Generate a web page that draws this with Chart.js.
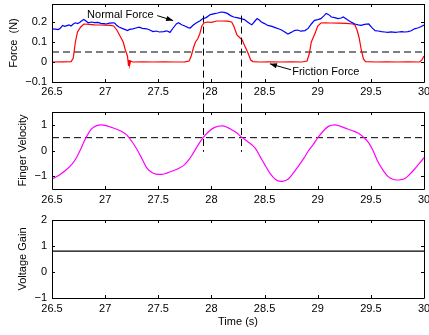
<!DOCTYPE html>
<html><head><meta charset="utf-8">
<script src="https://cdn.jsdelivr.net/npm/chart.js@4/dist/chart.umd.min.js"></script>
<style>
html,body{margin:0;padding:0;background:#fff;width:429px;height:335px;overflow:hidden}
canvas{position:absolute;left:0}
</style></head><body>
<canvas id="c1" width="429" height="106" style="top:0px"></canvas>
<canvas id="c2" width="429" height="106" style="top:106px"></canvas>
<canvas id="c3" width="429" height="123" style="top:212px"></canvas>
<script>
// ---------- data ----------
const timeTicks = [26.5, 27, 27.5, 28, 28.5, 29, 29.5, 30];
const forceTicks = [-0.1, 0, 0.1, 0.2];
const velocityTicks = [-1, 0, 1];
const gainTicks = [-1, 0, 1, 2];

const frictionT = [26.50,26.60,26.68,26.70,26.72,26.74,26.77,26.80,26.85,26.90,26.95,27.00,27.05,27.08,27.11,27.14,27.17,27.19,27.21,27.22,27.225,27.23,27.24,27.26,27.35,27.45,27.55,27.65,27.75,27.79,27.81,27.83,27.85,27.87,27.89,27.91,27.93,27.96,28.00,28.05,28.10,28.15,28.19,28.21,28.24,28.27,28.29,28.31,28.34,28.37,28.39,28.45,28.55,28.65,28.75,28.85,28.90,28.92,28.94,28.96,28.98,29.00,29.03,29.07,29.12,29.20,29.27,29.33,29.35,29.37,29.39,29.41,29.43,29.45,29.55,29.65,29.75,29.85,29.96,29.98,30.00];
const frictionF = [0,0.001,0.002,0.02,0.10,0.15,0.175,0.19,0.188,0.186,0.185,0.184,0.183,0.180,0.160,0.130,0.100,0.060,0.030,-0.020,0.010,-0.015,0.005,0,0.001,0,0.001,0,0.001,0.005,0.03,0.07,0.10,0.115,0.14,0.18,0.195,0.200,0.198,0.205,0.205,0.204,0.200,0.180,0.135,0.120,0.110,0.085,0.050,0.010,0.002,0,0.001,0,0.001,0,0.005,0.040,0.100,0.125,0.150,0.180,0.195,0.196,0.195,0.194,0.193,0.190,0.185,0.160,0.120,0.060,0.015,0.002,0,0.001,0,0.001,0,0.010,0.030];

const normalT = [26.50,26.53,26.56,26.58,26.60,26.62,26.64,26.66,26.68,26.70,26.72,26.74,26.76,26.78,26.80,26.82,26.84,26.87,26.90,26.93,26.96,26.99,27.01,27.04,27.07,27.09,27.11,27.13,27.16,27.19,27.21,27.23,27.26,27.29,27.32,27.35,27.39,27.42,27.45,27.48,27.51,27.55,27.58,27.61,27.64,27.67,27.69,27.72,27.75,27.78,27.80,27.83,27.86,27.89,27.92,27.95,27.99,28.03,28.06,28.09,28.12,28.15,28.18,28.21,28.24,28.28,28.31,28.34,28.36,28.38,28.41,28.43,28.45,28.47,28.50,28.53,28.57,28.60,28.63,28.66,28.69,28.72,28.75,28.78,28.81,28.84,28.88,28.91,28.94,28.97,29.00,29.03,29.06,29.08,29.10,29.13,29.16,29.19,29.22,29.24,29.27,29.29,29.32,29.35,29.38,29.41,29.44,29.48,29.51,29.54,29.57,29.60,29.63,29.66,29.69,29.73,29.76,29.79,29.82,29.85,29.88,29.91,29.94,29.97,30.00];
const normalF = [0.166,0.164,0.162,0.170,0.183,0.178,0.182,0.185,0.180,0.190,0.196,0.192,0.198,0.206,0.213,0.205,0.196,0.200,0.197,0.198,0.193,0.192,0.190,0.194,0.196,0.195,0.182,0.175,0.168,0.162,0.157,0.163,0.166,0.170,0.174,0.168,0.166,0.160,0.152,0.155,0.150,0.152,0.156,0.148,0.170,0.190,0.196,0.186,0.180,0.172,0.170,0.185,0.196,0.205,0.217,0.222,0.237,0.242,0.245,0.250,0.248,0.243,0.232,0.225,0.222,0.217,0.212,0.200,0.192,0.186,0.205,0.217,0.210,0.200,0.192,0.183,0.178,0.172,0.166,0.160,0.150,0.140,0.148,0.157,0.160,0.154,0.157,0.168,0.190,0.208,0.212,0.217,0.232,0.243,0.238,0.225,0.222,0.217,0.220,0.225,0.215,0.208,0.198,0.190,0.186,0.183,0.188,0.190,0.172,0.157,0.155,0.152,0.150,0.148,0.151,0.148,0.150,0.152,0.150,0.152,0.156,0.166,0.170,0.176,0.185];

const velocityT = [26.50,26.57,26.64,26.69,26.73,26.77,26.81,26.87,26.92,26.96,27.01,27.06,27.11,27.16,27.20,27.25,27.30,27.35,27.39,27.44,27.48,27.53,27.58,27.64,27.70,27.74,27.79,27.83,27.88,27.92,27.97,28.03,28.10,28.15,28.19,28.24,28.28,28.34,28.41,28.46,28.50,28.55,28.60,28.65,28.68,28.72,28.77,28.82,28.87,28.91,28.96,29.00,29.05,29.10,29.16,29.21,29.26,29.32,29.38,29.43,29.48,29.52,29.57,29.62,29.66,29.70,29.74,29.78,29.82,29.86,29.91,29.95,30.00];
const velocityV = [-1.12,-0.95,-0.73,-0.52,-0.28,0.05,0.42,0.83,0.97,1.0,0.97,0.90,0.83,0.73,0.62,0.36,0.04,-0.35,-0.67,-0.86,-0.92,-0.93,-0.88,-0.79,-0.68,-0.58,-0.35,-0.09,0.25,0.49,0.72,0.90,0.96,0.90,0.81,0.68,0.53,0.35,0.10,-0.25,-0.54,-0.88,-1.12,-1.20,-1.19,-1.12,-0.88,-0.60,-0.30,-0.03,0.25,0.49,0.75,0.94,1.0,0.95,0.87,0.78,0.68,0.52,0.30,0.0,-0.47,-0.80,-1.01,-1.11,-1.15,-1.14,-1.09,-0.95,-0.73,-0.53,-0.28];

const gainT = [26.5, 30];
const gainV = [0.8, 0.8];
const forceThreshold = 0.05;
const velocityThreshold = 0.5;
const switchTimes = [27.92, 28.28];

// ---------- helpers ----------
const FONT = {family: '"Liberation Sans", Arial, Helvetica, sans-serif', size: 11};
const pts = (xs, ys) => xs.map((x, i) => ({x, y: ys[i]}));
const fmt = v => String(+Number(v).toFixed(2)).replace('-', '\u2212');

function arrow(ctx, x1, y1, x2, y2) {
  ctx.beginPath(); ctx.moveTo(x1, y1); ctx.lineTo(x2, y2); ctx.stroke();
  const a = Math.atan2(y2 - y1, x2 - x1), L = 7, W = 2.6;
  ctx.beginPath();
  ctx.moveTo(x2, y2);
  ctx.lineTo(x2 - L*Math.cos(a) + W*Math.sin(a), y2 - L*Math.sin(a) - W*Math.cos(a));
  ctx.lineTo(x2 - L*Math.cos(a) - W*Math.sin(a), y2 - L*Math.sin(a) + W*Math.cos(a));
  ctx.closePath(); ctx.fill();
}

const matlab = {
  id: 'matlab',
  afterDatasetsDraw(chart, args, opts) {
    const {ctx, chartArea: {left, right, top, bottom}, scales: {x, y}} = chart;
    const r = v => Math.round(v) + 0.5;
    ctx.save();
    ctx.strokeStyle = '#000'; ctx.fillStyle = '#000'; ctx.lineWidth = 1;
    if (opts.vlines) {
      ctx.setLineDash([7, 4]);
      opts.vlines.times.forEach(t => {
        const px = r(x.getPixelForValue(t));
        const y1 = opts.vlines.from === 'canvasTop' ? 0 : y.getPixelForValue(opts.vlines.from);
        const y2 = opts.vlines.to === 'canvasBottom' ? chart.height : y.getPixelForValue(opts.vlines.to);
        ctx.beginPath(); ctx.moveTo(px, y1); ctx.lineTo(px, y2); ctx.stroke();
      });
      ctx.setLineDash([]);
    }
    ctx.beginPath();
    ctx.rect(r(left), r(top), Math.round(right) - Math.round(left), Math.round(bottom) - Math.round(top));
    ctx.stroke();
    const TL = 3;
    ctx.beginPath();
    x.ticks.forEach(t => {
      const px = r(x.getPixelForValue(t.value));
      ctx.moveTo(px, bottom); ctx.lineTo(px, bottom - TL);
      ctx.moveTo(px, top); ctx.lineTo(px, top + TL);
    });
    y.ticks.forEach(t => {
      const py = r(y.getPixelForValue(t.value));
      ctx.moveTo(left, py); ctx.lineTo(left + TL, py);
      ctx.moveTo(right, py); ctx.lineTo(right - TL, py);
    });
    ctx.stroke();
    if (opts.notes) {
      ctx.font = FONT.size + 'px ' + FONT.family;
      ctx.textBaseline = 'middle'; ctx.textAlign = 'left';
      opts.notes.forEach(n => {
        ctx.fillText(n.text, x.getPixelForValue(n.at[0]), y.getPixelForValue(n.at[1]));
        arrow(ctx, x.getPixelForValue(n.from[0]), y.getPixelForValue(n.from[1]),
                   x.getPixelForValue(n.to[0]), y.getPixelForValue(n.to[1]));
      });
    }
    ctx.restore();
  }
};

function makeChart(id, cfg) {
  return new Chart(document.getElementById(id), {
    type: 'line',
    data: {datasets: cfg.datasets},
    plugins: [matlab],
    options: {
      responsive: false, animation: false, devicePixelRatio: 1,
      layout: {padding: {left: 0, right: 5, top: cfg.top, bottom: 0}},
      elements: {point: {radius: 0}, line: {tension: 0}},
      plugins: {legend: {display: false}, tooltip: {enabled: false}, matlab: cfg.extra || {}},
      scales: {
        x: {
          type: 'linear', min: 26.5, max: 30,
          grid: {display: false, drawTicks: false}, border: {display: false},
          ticks: {font: FONT, color: '#000', padding: cfg.xpad, maxRotation: 0, autoSkip: false, callback: fmt},
          afterBuildTicks: s => { s.ticks = timeTicks.map(v => ({value: v})); },
          afterFit: s => { s.height = cfg.h - cfg.bottom; s.paddingLeft = 0; s.paddingRight = 0; },
          title: cfg.xtitle ? {display: true, text: cfg.xtitle, font: FONT, color: '#000', padding: {top: 0, bottom: cfg.xtitlePad}} : {display: false}
        },
        y: {
          type: 'linear', min: cfg.ymin, max: cfg.ymax,
          grid: {display: false, drawTicks: false}, border: {display: false},
          ticks: {font: FONT, color: '#000', padding: 5, autoSkip: false, callback: fmt},
          afterBuildTicks: s => { s.ticks = cfg.yticks.map(v => ({value: v})); },
          afterFit: s => { s.width = 52; s.paddingTop = 0; s.paddingBottom = 0; },
          title: {display: true, text: cfg.ytitle, font: FONT, color: '#000', padding: {top: cfg.ytitlePad, bottom: 0}}
        }
      }
    }
  });
}

makeChart('c1', {
  h: 106, top: 4, bottom: 82, xpad: 3, ymin: -0.1, ymax: 0.29, yticks: forceTicks,
  ytitle: 'Force  (N)', ytitlePad: 7.4,
  datasets: [
    {data: pts(normalT, normalF), borderColor: '#0000ff', borderWidth: 1.2, parsing: false},
    {data: pts(frictionT, frictionF), borderColor: '#ff0000', borderWidth: 1.2, parsing: false},
    {data: pts([26.5, 30], [forceThreshold, forceThreshold]), borderColor: '#000', borderWidth: 1, borderDash: [7, 4], parsing: false}
  ],
  extra: {
    vlines: {times: switchTimes, from: 0.232, to: 'canvasBottom'},
    notes: [
      {text: 'Normal Force', at: [26.83, 0.237], from: [27.49, 0.232], to: [27.64, 0.207]},
      {text: 'Friction Force', at: [28.76, -0.05], from: [28.75, -0.039], to: [28.55, -0.009]}
    ]
  }
});

makeChart('c2', {
  h: 106, top: 6, bottom: 83, xpad: 4, ymin: -1.5, ymax: 1.5, yticks: velocityTicks,
  ytitle: 'Finger Velocity', ytitlePad: 16,
  datasets: [
    {data: pts(velocityT, velocityV), borderColor: '#ff00ff', borderWidth: 1.2, cubicInterpolationMode: 'monotone', parsing: false},
    {data: pts([26.5, 30], [velocityThreshold, velocityThreshold]), borderColor: '#000', borderWidth: 1, borderDash: [7, 4], parsing: false}
  ],
  extra: {vlines: {times: switchTimes, from: 'canvasTop', to: -0.05}}
});

makeChart('c3', {
  h: 123, top: 8, bottom: 86, xpad: 4, ymin: -1, ymax: 2, yticks: gainTicks,
  ytitle: 'Voltage Gain', ytitlePad: 16.4, xtitle: 'Time (s)', xtitlePad: 6.4,
  datasets: [
    {data: pts(gainT, gainV), borderColor: '#000', borderWidth: 1.3, parsing: false}
  ]
});
</script>
</body></html>
